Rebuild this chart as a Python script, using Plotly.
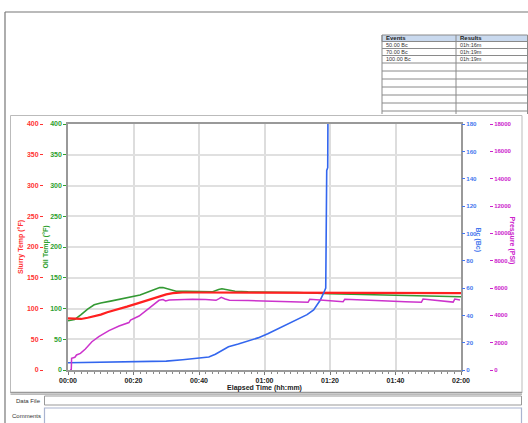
import plotly.graph_objects as go

W, H = 528, 423

# ---------------- data ----------------
x_tick_vals = [0, 20, 40, 60, 80, 100, 120]
x_tick_text = ["00:00", "00:20", "00:40", "01:00", "01:20", "01:40", "02:00"]

slurry_t = [0, 2, 4, 6, 8, 10, 12, 15, 18, 21, 24, 27, 30, 32, 35, 40, 60, 80, 100, 120]
slurry_v = [84, 83, 83, 85, 87, 90, 94, 98, 103, 108, 113, 118, 123, 125, 126, 126, 126, 125, 125, 125]

oil_t = [0, 2, 4, 6, 8, 10, 13, 16, 19, 22, 25, 28, 29, 31, 33, 36, 40, 44, 46, 47, 49, 51, 55, 60, 65, 70, 80, 90, 100, 110, 120]
oil_v = [80, 82, 90, 99, 106, 109, 112, 115, 118, 122, 128, 134, 134, 131, 128, 128, 128, 127, 131, 132, 130, 128, 127, 127, 127, 126, 124, 123, 122, 121, 119]

bc_t = [0, 5, 10, 15, 20, 25, 30, 35, 40, 43, 45, 47, 49, 52, 55, 58, 61, 64, 67, 70, 73, 75, 77, 78, 78.7, 79.0, 79.3, 79.4]
bc_v = [5.3, 5.5, 5.4, 5.5, 5.6, 6.0, 6.5, 7.5, 8.5, 9.5, 11.5, 14.5, 17, 19, 21, 23.5, 26.5, 30, 33, 37, 40.5, 44, 51, 56, 60, 146, 148, 200]

pres_t = [0.6, 1.0, 1.1, 2.1, 2.6, 3.8, 5.3, 7.3, 9.4, 12.5, 15.6, 18.1, 18.6, 19.1, 21.7, 24.7, 26.8, 27.8, 29.0, 29.8, 30.9, 34, 38, 42, 45.2,
          46.0, 46.8, 48.0, 49.3, 55, 63.6, 68, 73.3, 73.8, 78, 84.0, 84.5, 90, 97.7, 103, 107.9, 108.4, 113, 117.6, 118.1, 119.7]
pres_v = [0, 0, 860, 930, 1100, 1220, 1540, 2070, 2440, 2880, 3220, 3460, 3470, 3660, 3950, 4510, 4880, 5100, 5150, 5050, 5120, 5150, 5170, 5150, 5100,
          5200, 5320, 5200, 5100, 5080, 5050, 5000, 4950, 5170, 5100, 5000, 5170, 5100, 5050, 5000, 4950, 5190, 5080, 4970, 5190, 5120]

events = ["50.00 Bc", "70.00 Bc", "100.00 Bc"]
results = ["01h:16m", "01h:19m", "01h:19m"]

# ---------------- colours ----------------
RED = "#ff2020"
GREEN = "#339933"
BLUE = "#3366ee"
MAGENTA = "#cc33cc"
RED_T = "#ff3333"
GREEN_T = "#2ea02e"
BLUE_T = "#4477ee"
MAG_T = "#cc22cc"


def px(x):
    return x / W


def py(y):
    return 1 - y / H


FONT = "Liberation Sans"

fig = go.Figure()
fig.add_trace(go.Scatter(x=slurry_t, y=slurry_v, mode="lines", line=dict(color=RED, width=2.2), yaxis="y2", name="Slurry Temp"))
fig.add_trace(go.Scatter(x=oil_t, y=oil_v, mode="lines", line=dict(color=GREEN, width=1.6), yaxis="y", name="Oil Temp"))
fig.add_trace(go.Scatter(x=pres_t, y=pres_v, mode="lines", line=dict(color=MAGENTA, width=1.5, shape="linear"), yaxis="y4", name="Pressure"))
fig.add_trace(go.Scatter(x=bc_t, y=bc_v, mode="lines", line=dict(color=BLUE, width=1.6), yaxis="y3", name="Bc"))

tick_font = lambda c, s=7: dict(family=FONT, size=s, color=c, weight="bold")
title_font = lambda c: dict(family=FONT, size=7, color=c, weight="bold")

x0, x1 = px(68), px(461)
y0, y1 = py(370), py(124)

fig.update_layout(
    width=W, height=H,
    margin=dict(l=0, r=0, t=0, b=0),
    paper_bgcolor="white", plot_bgcolor="white",
    showlegend=False,
    xaxis=dict(
        domain=[x0, x1], range=[0, 120], tickvals=x_tick_vals, ticktext=x_tick_text,
        tickfont=tick_font("#222222"), ticks="outside", ticklen=3, tickcolor="#777",
        minor=dict(dtick=2, ticks="outside", ticklen=2, tickcolor="#888", showgrid=False),
        showgrid=True, gridcolor="#dddddd", gridwidth=1.5,
        showline=True, linecolor="#999999", linewidth=1.5, mirror=True,
        zeroline=False, automargin=False,
        title=dict(text="Elapsed Time (hh:mm)", font=title_font("#222222"), standoff=2),
    ),
    yaxis=dict(
        domain=[y0, y1], range=[0, 400], dtick=50,
        tickfont=tick_font(GREEN_T), ticks="outside", ticklen=3, tickcolor=GREEN_T,
        showgrid=True, gridcolor="#e0e0e0", gridwidth=1.5,
        showline=True, linecolor="#999999", linewidth=1.5, mirror=True,
        zeroline=False, automargin=False,
        title=dict(text="Oil Temp (°F)", font=title_font(GREEN_T), standoff=1),
    ),
    yaxis2=dict(
        overlaying="y", anchor="free", position=px(43), side="left",
        range=[0, 400], dtick=50,
        tickfont=tick_font(RED_T), ticks="outside", ticklen=3, tickcolor=RED_T,
        showgrid=False, showline=False, zeroline=False, automargin=False,
        title=dict(text="Slurry Temp (°F)", font=title_font(RED_T), standoff=1),
    ),
    yaxis3=dict(
        overlaying="y", anchor="x", side="right",
        range=[0, 180], dtick=20,
        tickfont=tick_font(BLUE_T, 6.2), ticks="outside", ticklen=3, tickcolor=BLUE_T,
        showgrid=False, showline=False, zeroline=False, automargin=False,
    ),
    yaxis4=dict(
        overlaying="y", anchor="free", position=px(489), side="right",
        range=[0, 18000], dtick=2000, tickformat="d",
        tickfont=tick_font(MAG_T, 6), ticks="outside", ticklen=3, tickcolor=MAG_T,
        showgrid=False, showline=False, zeroline=False, automargin=False,
    ),
)

shapes = []
annos = []

# outer frame (top + left)
shapes.append(dict(type="line", xref="paper", yref="paper", x0=px(5), x1=px(528), y0=py(12), y1=py(12), line=dict(color="#777", width=1.2)))
shapes.append(dict(type="line", xref="paper", yref="paper", x0=px(5), x1=px(5), y0=py(12), y1=py(423), line=dict(color="#777", width=1.2)))

# chart panel
shapes.append(dict(type="rect", xref="paper", yref="paper", x0=px(10.5), x1=px(522), y0=py(393), y1=py(115.5),
                   line=dict(color="#bbbbbb", width=1)))
shapes.append(dict(type="line", xref="paper", yref="paper", x0=px(10.5), x1=px(522), y0=py(392.5), y1=py(392.5), line=dict(color="#999", width=1.5)))
shapes.append(dict(type="line", xref="paper", yref="paper", x0=px(10.5), x1=px(522), y0=py(394.5), y1=py(394.5), line=dict(color="#bbb", width=1)))

# events / results table
tx0, tmid, tx1 = 382, 456, 527.5
ty_header = (35, 41.5)
row_edges = [41.5, 48.5, 55.5, 63, 71, 79, 87, 95, 103, 111]
shapes.append(dict(type="rect", xref="paper", yref="paper", x0=px(tx0), x1=px(tx1), y0=py(ty_header[1]), y1=py(ty_header[0]),
                   fillcolor="#c9d9ee", line=dict(color="#8a8a8a", width=1)))
for ye in row_edges:
    shapes.append(dict(type="line", xref="paper", yref="paper", x0=px(tx0), x1=px(tx1), y0=py(ye), y1=py(ye), line=dict(color="#8a8a8a", width=1)))
for xe in (tx0, tmid, tx1):
    shapes.append(dict(type="line", xref="paper", yref="paper", x0=px(xe), x1=px(xe), y0=py(35), y1=py(114), line=dict(color="#8a8a8a", width=1)))

annos.append(dict(text="<b>Events</b>", x=px(tx0 + 2), y=py(38.3), xanchor="left", yanchor="middle", showarrow=False,
                  xref="paper", yref="paper", font=dict(family=FONT, size=6, color="#222")))
annos.append(dict(text="<b>Results</b>", x=px(tmid + 2), y=py(38.3), xanchor="left", yanchor="middle", showarrow=False,
                  xref="paper", yref="paper", font=dict(family=FONT, size=6, color="#222")))
for i, (ev, rs) in enumerate(zip(events, results)):
    yc = (row_edges[i] + row_edges[i + 1]) / 2
    annos.append(dict(text=ev, x=px(tx0 + 2), y=py(yc), xanchor="left", yanchor="middle", showarrow=False,
                      xref="paper", yref="paper", font=dict(family=FONT, size=5.5, color="#333")))
    annos.append(dict(text=rs, x=px(tmid + 2), y=py(yc), xanchor="left", yanchor="middle", showarrow=False,
                      xref="paper", yref="paper", font=dict(family=FONT, size=5.5, color="#333")))

# right axis titles (rotated clockwise)
annos.append(dict(text="<b>Bc (Bc)</b>", x=px(483.5), y=py(240), textangle=90, showarrow=False, xref="paper", yref="paper",
                  font=dict(family=FONT, size=7, color=BLUE_T)))
annos.append(dict(text="<b>Pressure (PSI)</b>", x=px(517.5), y=py(240), textangle=90, showarrow=False, xref="paper", yref="paper",
                  font=dict(family=FONT, size=7, color=MAG_T)))

# data file / comments boxes
shapes.append(dict(type="rect", xref="paper", yref="paper", x0=px(44.5), x1=px(521.5), y0=py(405), y1=py(396),
                   line=dict(color="#999", width=1)))
shapes.append(dict(type="rect", xref="paper", yref="paper", x0=px(44.5), x1=px(521.5), y0=py(424), y1=py(408),
                   line=dict(color="#aab4d0", width=1.2)))
annos.append(dict(text="Data File", x=px(43), y=py(400.5), xanchor="right", yanchor="middle", showarrow=False,
                  xref="paper", yref="paper", font=dict(family=FONT, size=6, color="#333")))
annos.append(dict(text="Comments", x=px(43), y=py(416), xanchor="right", yanchor="middle", showarrow=False,
                  xref="paper", yref="paper", font=dict(family=FONT, size=6, color="#333")))

fig.update_layout(shapes=shapes, annotations=annos)
fig.write_html(
    "out.html",
    config={"displayModeBar": False},
    post_script="document.body.style.margin='0';document.body.style.padding='0';document.body.style.overflow='hidden';",
)
